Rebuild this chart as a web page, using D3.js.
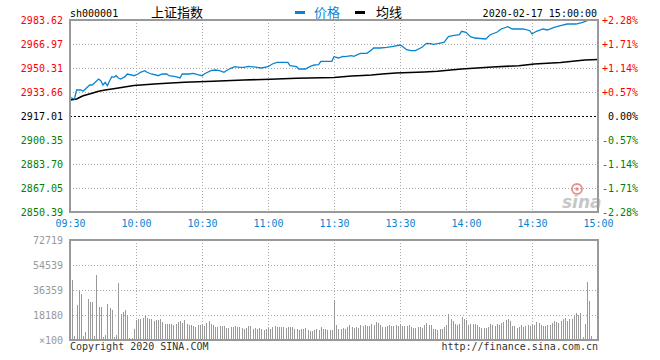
<!DOCTYPE html>
<html>
<head>
<meta charset="utf-8">
<script src="https://cdn.jsdelivr.net/npm/d3@7"></script>
<style>
  html, body { margin: 0; padding: 0; background: #fff; }
  svg { display: block; }
  .mono { font-family: "DejaVu Sans Mono", "Liberation Mono", monospace; font-size: 10px; }
  .cjk { font-family: "Noto Sans CJK SC", sans-serif; font-size: 13px; }
</style>
</head>
<body>
<svg id="chart" width="660" height="360"></svg>
<script>
// ---------- data ----------
const symbol = "sh000001";
const title = "上证指数";
const stamp = "2020-02-17 15:00:00";
const prevClose = 2917.01;
const priceTicks = [2983.62, 2966.97, 2950.31, 2933.66, 2917.01, 2900.35, 2883.70, 2867.05, 2850.39];
const pctTicks = ["+2.28%", "+1.71%", "+1.14%", "+0.57%", "0.00%", "-0.57%", "-1.14%", "-1.71%", "-2.28%"];
const timeIdx = [0, 30, 60, 90, 120, 150, 180, 210, 240];
const timeLabels = ["09:30", "10:00", "10:30", "11:00", "11:30", "13:30", "14:00", "14:30", "15:00"];
const volTicks = [72719, 54539, 36359, 18180, 0];
const volTickLabels = ["72719", "54539", "36359", "18180", "×100"];

// price line (minute index, price)
const priceIdx = [0,2,3,5,6,7,9,10,11,13,14,15,16,17,18,19,20,21,22,23,25,26,28,29,31,32,34,35,37,39,40,42,44,45,48,50,51,54,56,58,60,61,64,66,68,70,71,73,75,77,79,81,85,87,90,92,94,99,100,103,104,107,109,111,113,114,119,120,122,124,125,128,129,132,135,137,138,141,144,147,150,151,153,155,157,160,162,164,165,167,170,172,174,177,178,180,182,184,189,191,194,196,199,201,206,209,210,212,215,217,220,223,226,230,233,236,240];
const priceVal = [2929.99,2928.81,2935.05,2935.05,2934.15,2935.74,2938.52,2938.52,2939.70,2942.68,2941.50,2938.52,2940.39,2938.03,2941.50,2944.28,2943.86,2944.97,2943.38,2942.68,2944.28,2946.15,2945.46,2944.97,2946.15,2947.33,2948.44,2947.33,2946.15,2945.46,2944.97,2946.15,2946.15,2944.97,2944.28,2943.38,2946.15,2946.15,2946.64,2945.67,2944.97,2946.15,2948.44,2948.93,2948.44,2947.33,2948.44,2950.11,2951.22,2950.80,2950.80,2951.49,2950.80,2950.32,2951.22,2953.09,2954.27,2954.27,2951.91,2951.22,2949.62,2949.62,2951.22,2952.40,2952.61,2954.96,2954.96,2958.16,2957.26,2958.43,2958.16,2958.85,2958.43,2960.51,2960.51,2962.80,2964.19,2964.19,2964.68,2965.37,2966.27,2965.37,2963.01,2962.32,2962.32,2964.68,2967.45,2967.18,2966.76,2967.18,2968.15,2972.03,2972.73,2973.42,2975.78,2975.09,2972.03,2971.13,2970.44,2973.42,2975.09,2977.38,2978.97,2977.38,2977.38,2976.20,2973.91,2975.78,2977.38,2976.68,2978.55,2979.66,2980.84,2980.84,2982.02,2983.62,2983.62];

// average line (minute index, price)
const avgIdx = [0,3,5,6,10,13,16,22,29,40,52,65,79,91,103,120,128,133,137,142,148,161,167,178,192,204,211,223,234,240];
const avgVal = [2928.11,2928.81,2930.40,2931.10,2932.76,2934.15,2935.05,2936.44,2938.17,2939.42,2940.46,2941.16,2941.99,2942.54,2943.24,2943.72,2944.76,2945.11,2945.46,2946.15,2946.85,2947.54,2948.03,2949.62,2951.01,2951.91,2953.09,2954.13,2955.87,2956.21];

// volume per minute (x100), index 0..240
const volume = [
 72719,43630,2910,25450,36360,33230,2910,5820,29600,27630,27630,2910,47050,24000,24000,2180,3640,25960,23270,21820,
 2180,3640,41230,18910,20360,21820,18180,1450,1450,7780,14540,15270,15270,16000,17960,16000,15270,15270,13820,14540,
 14540,15270,13090,11640,11640,11640,11640,10910,11640,13090,13820,12360,14540,11640,10910,10910,10180,9450,10910,10910,
 11640,10180,12360,13820,11640,10910,9450,9450,10180,10180,10180,8730,8730,9450,9450,10180,9450,9450,8730,8000,
 8730,
 10180,10180,8000,8730,8000,8730,8000,7270,8000,8730,8000,9450,10180,9450,9450,9450,9450,8730,9450,9450,
 9450,8000,8000,7270,8000,8000,8730,7270,6550,6550,7270,8000,7270,9450,8000,8000,7270,7270,7270,
 28360,
 10910,8000,8000,8730,8000,9450,10910,9450,8730,9450,8730,10910,10180,10910,10180,10180,11640,10910,13090,12360,
 10910,9450,9450,10180,10910,10180,10180,10910,10180,11640,10180,10180,10180,10910,9450,8730,8730,9450,9450,8730,10910,
 12360,10910,10910,8000,8000,7270,8000,8000,9450,10910,18910,15270,13820,11640,10910,11640,16730,15270,14540,10910,
 11640,11640,11640,10910,9450,8730,8730,8730,9450,11640,10910,10180,11640,10910,12360,13090,14540,15270,13820,10180,
 10180,8730,9450,10910,9450,10180,10910,10180,11640,10910,13090,12360,10910,10180,10180,10910,10910,12360,13820,13090,
 12360,13820,15270,16000,13820,15270,15270,17450,19630,18180,19630,2180,11640,42180,28360,2910,
 0,0,0
];

// ---------- drawing ----------
const svg = d3.select("#chart");
const L = 70, R = 598, T = 20, B = 212, VT = 240, VB = 340;
const gridColor = "#aaaaaa", borderColor = "#999999";
const blue = "#0a84d0", red = "#ff0000", green = "#008000";

const x = d3.scaleLinear().domain([0, 240]).range([L, R]);
const y = d3.scaleLinear().domain([2850.39, 2983.62]).range([B, T]);
const yv = d3.scaleLinear().domain([0, 72719]).range([VB, VT]);

function colorFor(v) { return v > prevClose + 0.001 ? red : (v < prevClose - 0.001 ? green : "#000"); }

// grid – price panel
const grid = svg.append("g").attr("shape-rendering", "crispEdges");
priceTicks.slice(1, -1).forEach(v => {
  const yy = Math.round(y(v)) + 0.5;
  grid.append("line").attr("x1", L).attr("x2", R).attr("y1", yy).attr("y2", yy)
    .attr("stroke", v === prevClose ? "#000" : gridColor)
    .attr("stroke-dasharray", v === prevClose ? "2,2" : "1,2");
});
timeIdx.slice(1, -1).forEach(i => {
  const xx = Math.round(x(i)) + 0.5;
  grid.append("line").attr("x1", xx).attr("x2", xx).attr("y1", T).attr("y2", B)
    .attr("stroke", gridColor).attr("stroke-dasharray", "1,2");
  grid.append("line").attr("x1", xx).attr("x2", xx).attr("y1", VT).attr("y2", VB)
    .attr("stroke", gridColor).attr("stroke-dasharray", "1,2");
});
volTicks.slice(1, -1).forEach(v => {
  const yy = Math.round(yv(v)) + 0.5;
  grid.append("line").attr("x1", L).attr("x2", R).attr("y1", yy).attr("y2", yy)
    .attr("stroke", gridColor).attr("stroke-dasharray", "1,2");
});

// watermark
const wm = svg.append("g").attr("opacity", 0.7);
wm.append("circle").attr("cx", 577).attr("cy", 189).attr("r", 5).attr("fill", "none").attr("stroke", "#e06060").attr("stroke-width", 1.8);
wm.append("circle").attr("cx", 577).attr("cy", 189).attr("r", 1.8).attr("fill", "#e06060");
wm.append("text").attr("x", 562).attr("y", 208).attr("font-family", "DejaVu Sans, sans-serif")
  .attr("font-size", 17).attr("font-style", "italic").attr("font-weight", "bold").attr("fill", "#b0b0b0").text("sina");

// volume bars
svg.append("g").attr("shape-rendering", "crispEdges")
  .selectAll("rect").data(volume).join("rect")
  .attr("x", (d, i) => Math.floor(x(i) + 0.5))
  .attr("width", 1)
  .attr("y", d => yv(d))
  .attr("height", d => VB - yv(d))
  .attr("fill", "#999999");

// lines
const priceData = priceIdx.map((i, k) => ({ i, v: priceVal[k] }));
const avgData = avgIdx.map((i, k) => ({ i, v: avgVal[k] }));
const line = d3.line().x(d => x(d.i)).y(d => y(d.v));
svg.append("path").datum(avgData).attr("d", line).attr("fill", "none").attr("stroke", "#000").attr("stroke-width", 1.6);
svg.append("path").datum(priceData).attr("d", line).attr("fill", "none").attr("stroke", blue).attr("stroke-width", 1.3);

// borders
const border = svg.append("g").attr("fill", "none").attr("stroke", borderColor).attr("stroke-width", 2);
border.append("rect").attr("x", L).attr("y", T).attr("width", R - L).attr("height", B - T);
border.append("rect").attr("x", L).attr("y", VT).attr("width", R - L).attr("height", VB - VT);

// axes
const axL = svg.append("g").attr("transform", `translate(${L},0)`)
  .call(d3.axisLeft(y).tickValues(priceTicks).tickSize(0).tickPadding(7).tickFormat(d3.format(".2f")));
const axR = svg.append("g").attr("transform", `translate(${R},0)`)
  .call(d3.axisRight(y).tickValues(priceTicks).tickSize(0).tickPadding(40).tickFormat((d, k) => pctTicks[k]));
const axB = svg.append("g").attr("transform", `translate(0,${B})`)
  .call(d3.axisBottom(x).tickValues(timeIdx).tickSize(0).tickPadding(8).tickFormat((d, k) => timeLabels[k]));
const axV = svg.append("g").attr("transform", `translate(${L},0)`)
  .call(d3.axisLeft(yv).tickValues(volTicks).tickSize(0).tickPadding(7).tickFormat((d, k) => volTickLabels[k]));

[axL, axR, axB, axV].forEach(a => {
  a.select(".domain").remove();
  a.selectAll("text").attr("class", "mono").attr("font-family", null).attr("font-size", null);
});
axL.selectAll("text").attr("fill", d => colorFor(d));
axR.selectAll("text").attr("fill", d => colorFor(d)).attr("text-anchor", "end");
axB.selectAll("text").attr("fill", blue);
axV.selectAll("text").attr("fill", "#999999");

// header
svg.append("text").attr("class", "mono").attr("x", L).attr("y", 16.5).attr("fill", "#000").text(symbol);
svg.append("text").attr("class", "cjk").attr("x", 151).attr("y", 17).attr("fill", "#000").text(title);
svg.append("rect").attr("x", 295).attr("y", 11).attr("width", 10).attr("height", 3).attr("fill", blue);
svg.append("text").attr("class", "cjk").attr("x", 314).attr("y", 17).attr("fill", blue).text("价格");
svg.append("rect").attr("x", 355).attr("y", 11).attr("width", 10).attr("height", 3).attr("fill", "#000");
svg.append("text").attr("class", "cjk").attr("x", 376).attr("y", 17).attr("fill", "#000").text("均线");
svg.append("text").attr("class", "mono").attr("x", 597).attr("y", 16.5).attr("text-anchor", "end").attr("fill", "#000").text(stamp);

// footer
svg.append("text").attr("class", "mono").attr("x", L).attr("y", 350).attr("fill", "#333").text("Copyright 2020 SINA.COM");
svg.append("text").attr("class", "mono").attr("x", R).attr("y", 350).attr("text-anchor", "end").attr("fill", "#333").text("http://finance.sina.com.cn");
</script>
</body>
</html>
